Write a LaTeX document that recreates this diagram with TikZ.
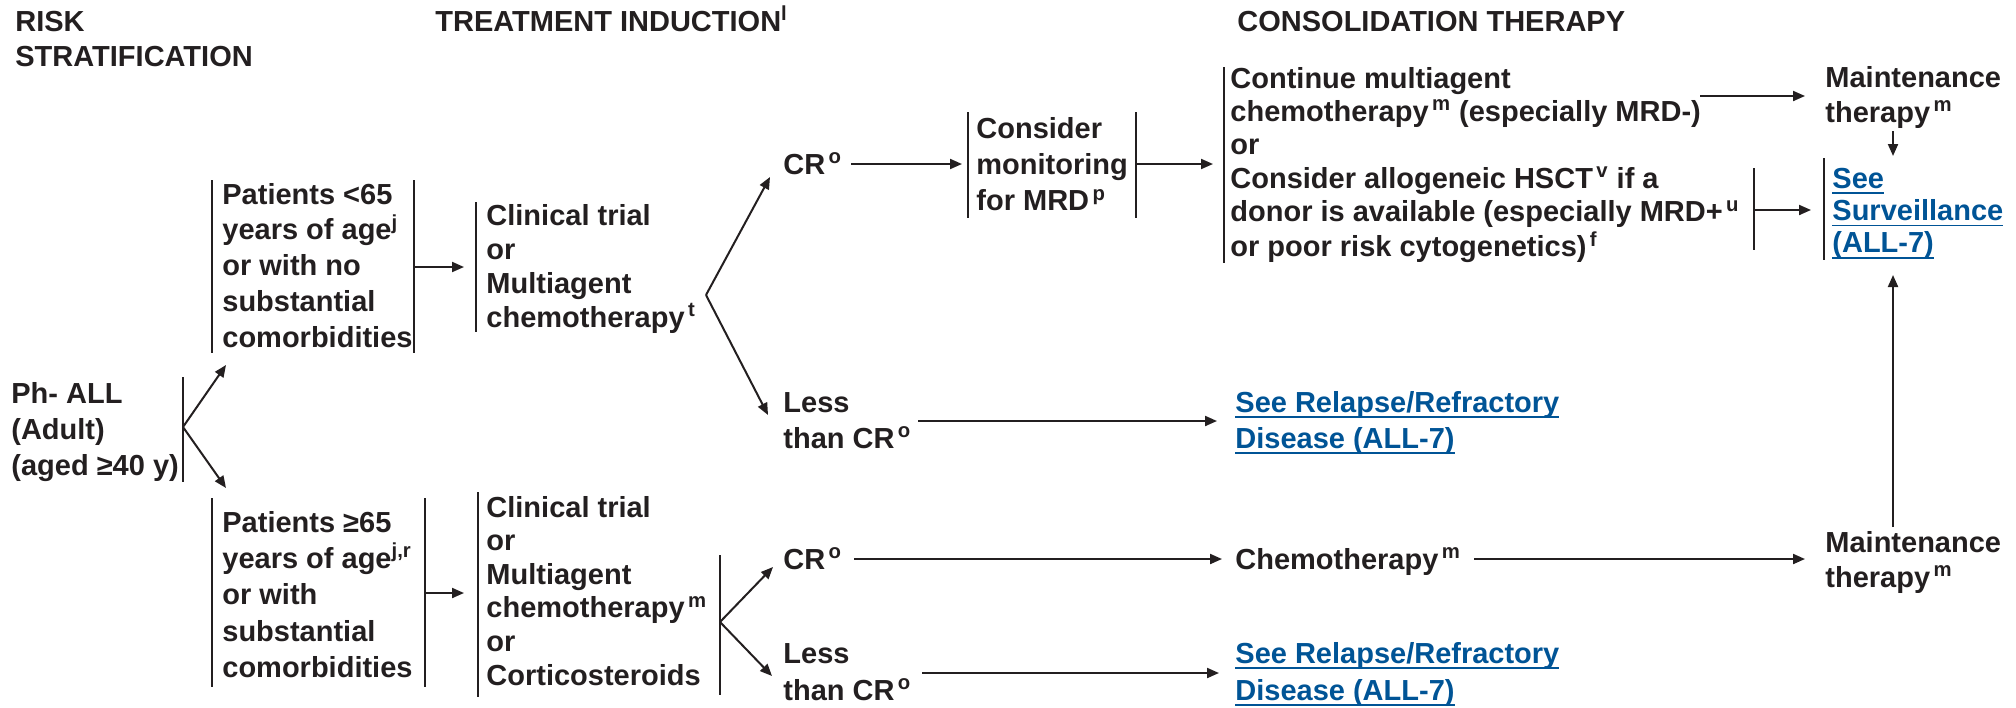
\documentclass[tikz,border=0pt]{standalone}
\usepackage{fontspec}
\setmainfont{Liberation Sans}
\usetikzlibrary{arrows.meta}
\definecolor{ink}{RGB}{35,31,32}
\definecolor{linkblue}{RGB}{0,84,150}
\newcommand\ml[2][17.5]{{\fontsize{14.5}{#1}\selectfont\begin{tabular}[t]{@{}l@{}}#2\end{tabular}}}
\newcommand\lk[1]{{\color{linkblue}\setbox0\hbox{#1}\rlap{\rule[-3pt]{\wd0}{0.8pt}}\box0}}
\newcommand\sps[1]{\textsuperscript{\,#1}}
\begin{document}
\begin{tikzpicture}[x=0.5pt,y=-0.5pt,
  every node/.style={inner sep=0pt, anchor=base west, text=ink, font=\bfseries\fontsize{14.5}{17.5}\selectfont},
  arr/.style={-{Triangle[length=6pt,width=5pt]}, line width=1pt, draw=ink},
  bar/.style={line width=1.1pt, draw=ink}]
\useasboundingbox (0,0) rectangle (2016,707);
% headers
\node (h1) at (15,31) {\ml{RISK\\STRATIFICATION}};
\node (h2) at (435,31) {TREATMENT INDUCTION\textsuperscript{l}};
\node (h3) at (1237,31) {CONSOLIDATION THERAPY};
% nodes
\node (ph) at (11,403) {\ml[18]{Ph- ALL\\(Adult)\\(aged ≥40 y)}};
\node (p1) at (222,204) {\ml[17.9]{Patients <65\\years of age\textsuperscript{j}\\or with no\\substantial\\comorbidities}};
\node (c1) at (486,225) {\ml[17]{Clinical trial\\or\\Multiagent\\chemotherapy\sps{t}}};
\node (cr1) at (783,174) {CR\sps{o}};
\node (mrd) at (976,138) {\ml[18.2]{Consider\\monitoring\\for MRD\sps{p}}};
\node (cons) at (1230,88) {\ml[16.7]{Continue multiagent\\chemotherapy\sps{m} (especially MRD-)\\or\\Consider allogeneic HSCT\sps{v} if a\\donor is available (especially MRD+\sps{u}\\or poor risk cytogenetics)\sps{f}}};
\node (mt1) at (1825,87) {\ml{Maintenance\\therapy\sps{m}}};
\node (surv) at (1832,188) {\ml[16.2]{\lk{See}\\\lk{Surveillance}\\\lk{(ALL-7)}}};
\node (less1) at (783,412) {\ml[18]{Less\\than CR\sps{o}}};
\node (rel1) at (1235,412) {\ml[18]{\lk{See Relapse/Refractory}\\\lk{Disease (ALL-7)}}};
\node (p2) at (222,532) {\ml[18.2]{Patients ≥65\\years of age\textsuperscript{j,r}\\or with\\substantial\\comorbidities}};
\node (c2) at (486,517) {\ml[16.8]{Clinical trial\\or\\Multiagent\\chemotherapy\sps{m}\\or\\Corticosteroids}};
\node (cr2) at (783,569) {CR\sps{o}};
\node (chemo) at (1235,569) {Chemotherapy\sps{m}};
\node (mt2) at (1825,552) {\ml{Maintenance\\therapy\sps{m}}};
\node (less2) at (783,663) {\ml[18.5]{Less\\than CR\sps{o}}};
\node (rel2) at (1235,663) {\ml[18.5]{\lk{See Relapse/Refractory}\\\lk{Disease (ALL-7)}}};
% bars
\draw[bar] (183,377) -- (183,482);
\draw[bar] (212,180) -- (212,353);
\draw[bar] (414,180) -- (414,353);
\draw[bar] (476,202) -- (476,332);
\draw[bar] (968,112) -- (968,218);
\draw[bar] (1136,112) -- (1136,218);
\draw[bar] (1224,67) -- (1224,263);
\draw[bar] (1754,168) -- (1754,250);
\draw[bar] (1824,158) -- (1824,260);
\draw[bar] (212,498) -- (212,687);
\draw[bar] (425,498) -- (425,687);
\draw[bar] (478,492) -- (478,697);
\draw[bar] (720,555) -- (720,695);
% connector coordinates
\coordinate (phR) at (183,427);
\coordinate (p1in) at (226,365);
\coordinate (p2in) at (226,488);
\coordinate (p1R) at (414,267);
\coordinate (c1in) at (464,267);
\coordinate (c1R) at (706,295);
\coordinate (cr1in) at (770,177);
\coordinate (less1in) at (768,415);
\coordinate (cr1R) at (851,164);
\coordinate (mrdL) at (962,164);
\coordinate (mrdR) at (1136,164);
\coordinate (consL) at (1213,164);
\coordinate (consA) at (1700,96);
\coordinate (mt1L) at (1805,96);
\coordinate (mt1B) at (1893,131);
\coordinate (survT) at (1893,156);
\coordinate (consB) at (1754,210);
\coordinate (survL) at (1811,210);
\coordinate (mt2T) at (1893,527);
\coordinate (survB) at (1893,275);
\coordinate (less1R) at (918,421);
\coordinate (rel1L) at (1217,421);
\coordinate (p2R) at (425,593);
\coordinate (c2in) at (464,593);
\coordinate (c2R) at (720,622);
\coordinate (cr2in) at (773,567);
\coordinate (less2in) at (772,676);
\coordinate (cr2R) at (854,559);
\coordinate (chemoL) at (1222,559);
\coordinate (chemoR) at (1474,559);
\coordinate (mt2L) at (1805,559);
\coordinate (less2R) at (922,673);
\coordinate (rel2L) at (1219,673);
% connectors
\draw[arr] (phR) -- (p1in);
\draw[arr] (phR) -- (p2in);
\draw[arr] (p1R) -- (c1in);
\draw[arr] (c1R) -- (cr1in);
\draw[arr] (c1R) -- (less1in);
\draw[arr] (cr1R) -- (mrdL);
\draw[arr] (mrdR) -- (consL);
\draw[arr] (consA) -- (mt1L);
\draw[arr] (mt1B) -- (survT);
\draw[arr] (consB) -- (survL);
\draw[arr] (mt2T) -- (survB);
\draw[arr] (less1R) -- (rel1L);
\draw[arr] (p2R) -- (c2in);
\draw[arr] (c2R) -- (cr2in);
\draw[arr] (c2R) -- (less2in);
\draw[arr] (cr2R) -- (chemoL);
\draw[arr] (chemoR) -- (mt2L);
\draw[arr] (less2R) -- (rel2L);
\end{tikzpicture}
\end{document}
